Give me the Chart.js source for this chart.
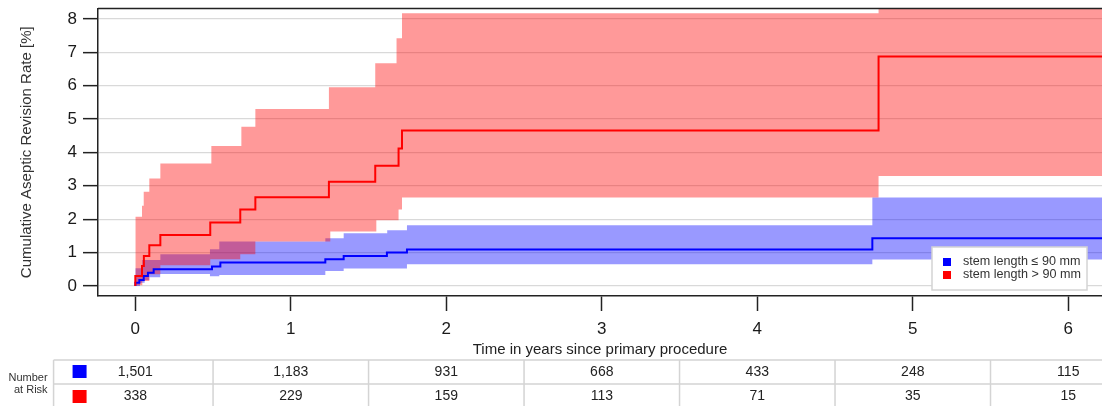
<!DOCTYPE html>
<html>
<head>
<meta charset="utf-8">
<script src="https://cdn.jsdelivr.net/npm/chart.js@4.4.1/dist/chart.umd.min.js"></script>
<style>
  html, body { margin: 0; padding: 0; background: #fff; }
  #wrap { position: relative; width: 1102px; height: 406px; }
</style>
</head>
<body>
<div id="wrap"><canvas id="km"></canvas></div>
<script>
// Kaplan-Meier steps: time in years since primary procedure, cumulative revision rate in %
const labelBlue = 'stem length \u2264 90 mm';
const labelRed  = 'stem length > 90 mm';

const blueLineT = [0, 0, 0.026, 0.054, 0.081, 0.118, 0.493, 0.547, 1.222, 1.34, 1.618, 1.747, 4.74, 6.5];
const blueLineY = [0, 0.1, 0.18, 0.3, 0.4, 0.5, 0.58, 0.7, 0.8, 0.9, 1.0, 1.09, 1.43, 1.43];
const blueUpT   = [0, 0.045, 0.161, 0.48, 0.54, 1.222, 1.34, 1.62, 1.747, 4.74, 6.5];
const blueUpY   = [0.53, 0.78, 0.95, 1.1, 1.33, 1.43, 1.58, 1.67, 1.82, 2.65, 2.65];
const blueLoT   = [0, 0.03, 0.06, 0.09, 0.16, 0.48, 0.54, 1.222, 1.34, 1.747, 4.74, 6.5];
const blueLoY   = [0, 0.1, 0.18, 0.26, 0.36, 0.29, 0.33, 0.45, 0.52, 0.65, 0.79, 0.79];

const redLineT = [0, 0, 0.043, 0.055, 0.09, 0.161, 0.482, 0.675, 0.772, 1.245, 1.543, 1.693, 1.715, 4.78, 6.5];
const redLineY = [0, 0.3, 0.6, 0.9, 1.22, 1.53, 1.9, 2.29, 2.66, 3.12, 3.6, 4.12, 4.66, 6.87, 6.87];
const redUpT   = [0, 0.043, 0.054, 0.09, 0.161, 0.489, 0.682, 0.772, 1.245, 1.543, 1.68, 1.715, 4.78, 6.5];
const redUpY   = [2.07, 2.4, 2.82, 3.22, 3.67, 4.19, 4.77, 5.3, 5.95, 6.67, 7.42, 8.17, 9.5, 9.5];
const redLoT   = [0, 0.045, 0.09, 0.161, 0.482, 0.675, 0.772, 1.254, 1.55, 1.693, 1.715, 4.78, 6.5];
const redLoY   = [0.02, 0.15, 0.35, 0.62, 0.8, 0.95, 1.33, 1.63, 1.97, 2.29, 2.65, 3.29, 3.29];

// number at risk table
const riskTimes = [0, 1, 2, 3, 4, 5, 6];
const riskBlue  = [1501, 1183, 931, 668, 433, 248, 115];
const riskRed   = [338, 229, 159, 113, 71, 35, 15];

const FONT = '"Liberation Sans", Arial, sans-serif';
Chart.defaults.font.family = FONT;

const pts = (t, y) => t.map((x, i) => ({ x, y: y[i] }));
const line = (label, t, y, color) => ({
  label, data: pts(t, y), borderColor: color, borderWidth: 2,
  stepped: true, pointRadius: 0, fill: false
});
const band = (t, y, bg) => ({
  data: pts(t, y), borderColor: 'rgba(0,0,0,0)', borderWidth: 0,
  backgroundColor: bg, stepped: true, pointRadius: 0, fill: bg ? '+1' : false
});

const framePlugin = {
  id: 'frame',
  afterDatasetsDraw(chart) {
    const { ctx, chartArea: a } = chart;
    ctx.save();
    ctx.strokeStyle = '#222';
    ctx.lineWidth = 1.5;
    ctx.beginPath();
    ctx.moveTo(a.left, a.top);
    ctx.lineTo(a.right, a.top);
    ctx.stroke();
    ctx.restore();
  }
};

const boxLegend = {
  id: 'boxLegend',
  afterDraw(chart) {
    const { ctx, chartArea: a } = chart;
    const items = [chart.data.datasets[1], chart.data.datasets[0]];
    const w = 155, h = 43;
    const x0 = a.right - 15 - w, y0 = a.bottom - 6 - h;
    ctx.save();
    ctx.fillStyle = '#fff';
    ctx.fillRect(x0, y0, w, h);
    ctx.strokeStyle = '#d4d4d4';
    ctx.lineWidth = 1.5;
    ctx.strokeRect(x0, y0, w, h);
    ctx.font = '12.6px ' + FONT;
    ctx.textBaseline = 'middle';
    items.forEach((ds, i) => {
      const cy = y0 + 15 + i * 13;
      ctx.fillStyle = ds.borderColor;
      ctx.fillRect(x0 + 11, cy - 4, 8, 8);
      ctx.fillStyle = '#333';
      ctx.fillText(ds.label, x0 + 31, cy);
    });
    ctx.restore();
  }
};

const riskTable = {
  id: 'riskTable',
  afterDraw(chart) {
    const { ctx } = chart;
    const xs = chart.scales.x;
    const top = chart.height - 46, mid = top + 24, bot = chart.height + 2;
    const edge = xs.getPixelForValue(riskTimes[0] - 0.5) - 4;
    ctx.save();
    ctx.strokeStyle = '#d4d4d4';
    ctx.lineWidth = 1.5;
    ctx.beginPath();
    ctx.moveTo(edge, top); ctx.lineTo(chart.width, top);
    ctx.moveTo(edge, mid); ctx.lineTo(chart.width, mid);
    ctx.moveTo(edge, top); ctx.lineTo(edge, bot);
    riskTimes.forEach(t => {
      const px = xs.getPixelForValue(t + 0.5);
      ctx.moveTo(px, top); ctx.lineTo(px, bot);
    });
    ctx.stroke();

    ctx.fillStyle = '#0000ff';
    ctx.fillRect(edge + 19, top + 5, 14, 13);
    ctx.fillStyle = '#ff0000';
    ctx.fillRect(edge + 19, mid + 6, 14, 13);

    ctx.fillStyle = '#222';
    ctx.font = '14px ' + FONT;
    ctx.textAlign = 'center';
    ctx.textBaseline = 'middle';
    riskTimes.forEach((t, i) => {
      const px = xs.getPixelForValue(t);
      ctx.fillText(riskBlue[i].toLocaleString('en-US'), px, (top + mid) / 2);
      ctx.fillText(riskRed[i].toLocaleString('en-US'), px, (mid + bot) / 2);
    });

    ctx.fillStyle = '#333';
    ctx.font = '11px ' + FONT;
    ctx.textAlign = 'right';
    ctx.fillText('Number', edge - 6, mid - 6);
    ctx.fillText('at Risk', edge - 6, mid + 6);
    ctx.restore();
  }
};

new Chart(document.getElementById('km'), {
  type: 'line',
  data: {
    datasets: [
      line(labelRed, redLineT, redLineY, '#ff0000'),
      line(labelBlue, blueLineT, blueLineY, '#0000ff'),
      band(redUpT, redUpY, 'rgba(255,0,0,0.4)'),
      band(redLoT, redLoY, null),
      band(blueUpT, blueUpY, 'rgba(0,0,255,0.4)'),
      band(blueLoT, blueLoY, null)
    ]
  },
  options: {
    responsive: true,
    maintainAspectRatio: false,
    animation: false,
    layout: { padding: { top: 8.5, left: 0, right: 0, bottom: 0 } },
    plugins: { legend: { display: false }, tooltip: { enabled: false } },
    scales: {
      x: {
        type: 'linear', min: -0.24, max: 6.217,
        afterFit: s => { s.height = 110; s.paddingLeft = 0; s.paddingRight = 0; },
        ticks: { stepSize: 1, includeBounds: false, color: '#1a1a1a', font: { size: 17 }, padding: 8, maxRotation: 0 },
        grid: { drawOnChartArea: false, tickColor: '#222', tickLength: 15, tickWidth: 1.5 },
        border: { color: '#222', width: 1.5 },
        title: { display: true, text: 'Time in years since primary procedure', color: '#222',
                 font: { size: 15 }, padding: { top: 0, bottom: 47 } }
      },
      y: {
        min: -0.3, max: 8.31,
        afterFit: s => { s.width = 98; s.paddingTop = 0; s.paddingBottom = 0; },
        ticks: { stepSize: 1, includeBounds: false, color: '#1a1a1a', font: { size: 17 }, padding: 6 },
        grid: { color: '#d9d9d9', lineWidth: 1.3, tickColor: '#222', tickLength: 15, tickWidth: 1.5 },
        border: { color: '#222', width: 1.5 },
        title: { display: true, text: 'Cumulative Aseptic Revision Rate [%]', color: '#333',
                 font: { size: 15 }, padding: { top: 18, bottom: 0 } }
      }
    }
  },
  plugins: [framePlugin, boxLegend, riskTable]
});
</script>
</body>
</html>
